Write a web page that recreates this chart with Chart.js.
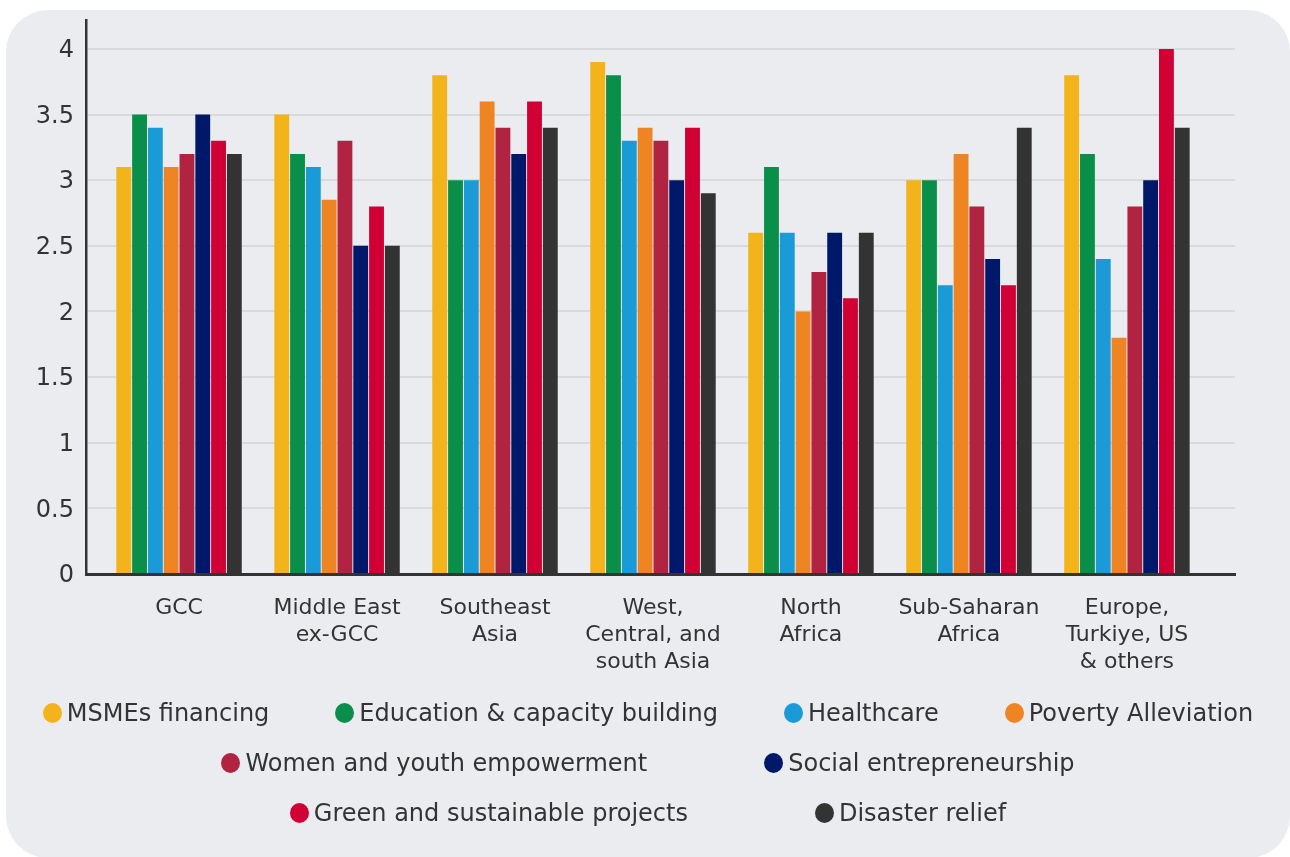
<!DOCTYPE html>
<html>
<head>
<meta charset="utf-8">
<script src="https://cdn.jsdelivr.net/npm/chart.js@4.4.1/dist/chart.umd.min.js"></script>
<style>
  html, body { margin: 0; padding: 0; background: #ffffff; }
  body { width: 1290px; height: 857px; position: relative; overflow: hidden; font-family: "DejaVu Sans", Verdana, sans-serif; }
  #panel { position: absolute; left: 6px; top: 10px; width: 1284px; height: 848px; background: #ebecf0; border-radius: 42px; }
  #chart { position: absolute; left: 0; top: 0; }
  #legend { position: absolute; left: 6px; width: 1284px; top: 688px; }
  .row { display: flex; justify-content: center; align-items: center; height: 50px; }
  .item { display: flex; align-items: center; font-size: 24px; color: #333333; white-space: nowrap; }
  .dot { width: 19px; height: 20px; border-radius: 50%; margin-right: 5px; flex: none; }
</style>
</head>
<body>
<div id="panel"></div>
<canvas id="chart" width="1290" height="690"></canvas>
<div id="legend"></div>
<script>
// Regions (multi-line labels under each group)
const regions = [
  ["GCC"],
  ["Middle East", "ex-GCC"],
  ["Southeast", "Asia"],
  ["West,", "Central, and", "south Asia"],
  ["North", "Africa"],
  ["Sub-Saharan", "Africa"],
  ["Europe,", "Turkiye, US", "& others"]
];

// Focus areas, one series each
const seriesNames = [
  "MSMEs financing",
  "Education & capacity building",
  "Healthcare",
  "Poverty Alleviation",
  "Women and youth empowerment",
  "Social entrepreneurship",
  "Green and sustainable projects",
  "Disaster relief"
];
const seriesColors = ["#f2b31b", "#0a8f4a", "#1a9ad6", "#ee8422", "#b02441", "#00186a", "#d10034", "#333333"];

// Scores per region (same order as regions)
const msmes      = [3.1, 3.5, 3.8, 3.9, 2.6, 3.0, 3.8];
const education  = [3.5, 3.2, 3.0, 3.8, 3.1, 3.0, 3.2];
const healthcare = [3.4, 3.1, 3.0, 3.3, 2.6, 2.2, 2.4];
const poverty    = [3.1, 2.85, 3.6, 3.4, 2.0, 3.2, 1.8];
const women      = [3.2, 3.3, 3.4, 3.3, 2.3, 2.8, 2.8];
const social     = [3.5, 2.5, 3.2, 3.0, 2.6, 2.4, 3.0];
const green      = [3.3, 2.8, 3.6, 3.4, 2.1, 2.2, 4.0];
const disaster   = [3.2, 2.5, 3.4, 2.9, 2.6, 3.4, 3.4];
const seriesValues = [msmes, education, healthcare, poverty, women, social, green, disaster];

// Y axis ticks
const yTicks = [0, 0.5, 1, 1.5, 2, 2.5, 3, 3.5, 4];

// Legend rows (indices into seriesNames)
const legendRows = [[0, 1, 2, 3], [4, 5], [6, 7]];
const legendGaps = [66, 117, 127];

const FONT = "'DejaVu Sans', Verdana, sans-serif";
const INK = "#333333";

const datasets = seriesNames.map((name, s) => ({
  label: name,
  data: seriesValues[s].map((v, i) => ({ x: i, y: v })),
  backgroundColor: seriesColors[s],
  borderWidth: 0,
  categoryPercentage: 0.8,
  barPercentage: 0.94
}));

const chart = new Chart(document.getElementById("chart"), {
  type: "bar",
  data: { datasets },
  options: {
    responsive: false,
    animation: false,
    devicePixelRatio: 1,
    layout: { padding: { top: 20, right: 55, left: 0, bottom: 0 } },
    plugins: { legend: { display: false }, tooltip: { enabled: false } },
    scales: {
      x: {
        type: "linear",
        min: -0.589,
        max: 6.684,
        offset: false,
        z: 1,
        grid: { display: false, offset: false },
        border: { display: true, color: INK, width: 3 },
        afterBuildTicks: (s) => { s.ticks = regions.map((_, i) => ({ value: i })); },
        afterFit: (s) => { s.height = 116; s.paddingLeft = 0; s.paddingRight = 0; },
        ticks: {
          autoSkip: false,
          maxRotation: 0,
          padding: 13,
          color: INK,
          font: { family: FONT, size: 22, lineHeight: "27px" },
          callback: (v, i) => regions[i]
        }
      },
      y: {
        min: 0,
        max: 4.22,
        z: 1,
        grid: { color: "#d9dadd", lineWidth: 2, drawTicks: false },
        border: { display: true, color: INK, width: 2.5 },
        afterBuildTicks: (s) => { s.ticks = yTicks.map(v => ({ value: v })); },
        afterFit: (s) => { s.width = 86; s.paddingTop = 0; s.paddingBottom = 0; },
        ticks: {
          padding: 12,
          labelOffset: 2,
          color: INK,
          font: { family: FONT, size: 24 },
          callback: (v) => String(v)
        }
      }
    }
  }
});

// Legend built from the chart's datasets
const legendEl = document.getElementById("legend");
legendRows.forEach((row, r) => {
  const rowEl = document.createElement("div");
  rowEl.className = "row";
  rowEl.style.gap = legendGaps[r] + "px";
  row.forEach((idx) => {
    const ds = chart.data.datasets[idx];
    const item = document.createElement("div");
    item.className = "item";
    const dot = document.createElement("span");
    dot.className = "dot";
    dot.style.background = ds.backgroundColor;
    const txt = document.createElement("span");
    txt.textContent = ds.label;
    item.appendChild(dot);
    item.appendChild(txt);
    rowEl.appendChild(item);
  });
  legendEl.appendChild(rowEl);
});
</script>
</body>
</html>
